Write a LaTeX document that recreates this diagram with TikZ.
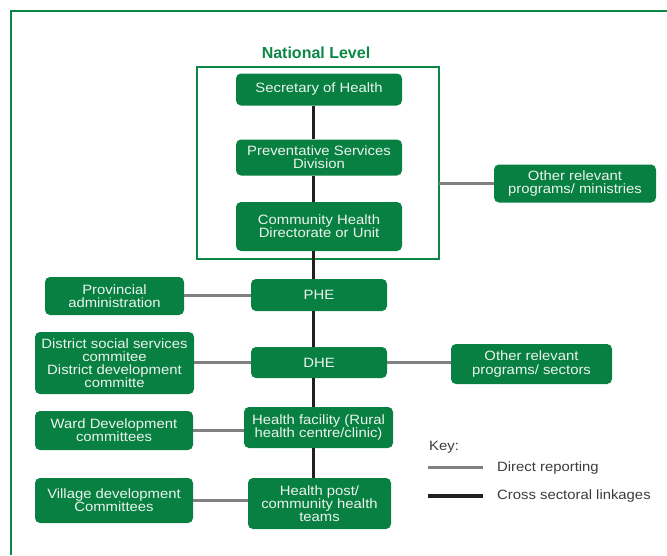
\documentclass[tikz,border=0pt]{standalone}
\usepackage{fontspec}
\setmainfont{Liberation Sans}
\newfontfamily\unitfont{Liberation Sans}[FakeStretch=1.1]
\usetikzlibrary{fit}
\definecolor{boxgreen}{RGB}{8,128,66}
\definecolor{framegreen}{RGB}{12,136,70}
\definecolor{linkgray}{RGB}{128,128,128}
\definecolor{linkblack}{RGB}{35,31,32}
\definecolor{keytext}{RGB}{60,60,60}
\definecolor{boxtext}{RGB}{236,244,236}
\tikzset{
  unit/.style={rounded corners=5pt, fill=boxgreen, draw=none, text=boxtext,
    align=center, inner sep=0pt,
    font=\unitfont\fontsize{13.5}{13.2}\selectfont},
  report/.style={draw=linkgray, line width=3pt},
  cross/.style={draw=linkblack, line width=3pt},
  keylabel/.style={anchor=west, text=keytext, inner sep=0pt,
    font=\unitfont\fontsize{13.5}{13.2}\selectfont},
}
\begin{document}
\begin{tikzpicture}[x=1pt, y=-1pt]
\useasboundingbox (0,0) rectangle (667,555);
\fill[white] (0,0) rectangle (667,555);

% outer page frame
\coordinate (fTL) at (11,11);
\coordinate (fTR) at (667,11);
\coordinate (fBL) at (11,555);
\draw[framegreen, line width=1.3pt] (fBL) -- (fTL) -- (fTR);

% national level frame and title
\coordinate (nTL) at (197,67);
\coordinate (nBR) at (439,259);
\draw[framegreen, line width=1.2pt] (nTL) rectangle (nBR);
\node[inner sep=0pt, fit=(nTL)(nBR)] (natl) {};
\node[text=framegreen, font=\bfseries\fontsize{16}{16}\selectfont, inner sep=0pt]
  (title) at (316,53) {National Level};

% vertical spine position
\coordinate (spine) at (313,0);

% units
\node[unit, minimum width=166pt, minimum height=32pt] (sec) at (319,89.5) {Secretary of Health};
\node[unit, minimum width=166pt, minimum height=36pt] (psd) at (319,157.5) {Preventative Services\\Division};
\node[unit, minimum width=166pt, minimum height=49pt] (chd) at (319,226.5) {Community Health\\Directorate or Unit};
\node[unit, minimum width=162pt, minimum height=38pt] (orm) at (575,183.5) {Other relevant\\programs/ ministries};
\node[unit, minimum width=136pt, minimum height=32pt] (phe) at (319,295) {PHE};
\node[unit, minimum width=139pt, minimum height=38pt] (prov) at (114.5,296) {Provincial\\administration};
\node[unit, minimum width=136pt, minimum height=31pt] (dhe) at (319,362.5) {DHE};
\node[unit, minimum width=159pt, minimum height=62pt] (dss) at (114.5,363) {District social services\\commitee\\District development\\committe};
\node[unit, minimum width=161pt, minimum height=40pt] (orps) at (531.5,364) {Other relevant\\programs/ sectors};
\node[unit, minimum width=149pt, minimum height=41pt] (hf) at (318.5,427.5) {Health facility (Rural\\health centre/clinic)};
\node[unit, minimum width=158pt, minimum height=39pt] (ward) at (114,430.5) {Ward Development\\committees};
\node[unit, minimum width=143pt, minimum height=51pt] (hp) at (319.5,503.5) {Health post/\\community health\\teams};
\node[unit, minimum width=158pt, minimum height=45pt] (vil) at (114,500.5) {Village development\\Committees};

% spine links
\draw[cross] (sec.south -| spine) -- (psd.north -| spine);
\draw[cross] (psd.south -| spine) -- (chd.north -| spine);
\draw[cross] (chd.south -| spine) -- (phe.north -| spine);
\draw[cross] (phe.south -| spine) -- (dhe.north -| spine);
\draw[cross] (dhe.south -| spine) -- (hf.north -| spine);
\draw[cross] (hf.south -| spine) -- (hp.north -| spine);

% side links
\draw[report] (natl.east |- orm.west) -- (orm.west);
\draw[report] (prov.east |- phe.west) -- (phe.west);
\draw[report] (dss.east |- dhe.west) -- (dhe.west);
\draw[report] (dhe.east) -- (dhe.east -| orps.west);
\draw[report] (ward.east) -- (ward.east -| hf.west);
\draw[report] (vil.east) -- (vil.east -| hp.west);

% key
\node[keylabel] (keyhead) at (429,447) {Key:};
\coordinate (kg1) at (428,467);
\coordinate (kg2) at (483,467);
\coordinate (kb1) at (428,496);
\coordinate (kb2) at (483,496);
\draw[report] (kg1) -- (kg2);
\draw[cross, line width=3.5pt] (kb1) -- (kb2);
\node[keylabel] (keydirect) at (497,468) {Direct reporting};
\node[keylabel] (keycross) at (497,496) {Cross sectoral linkages};
\end{tikzpicture}
\end{document}
